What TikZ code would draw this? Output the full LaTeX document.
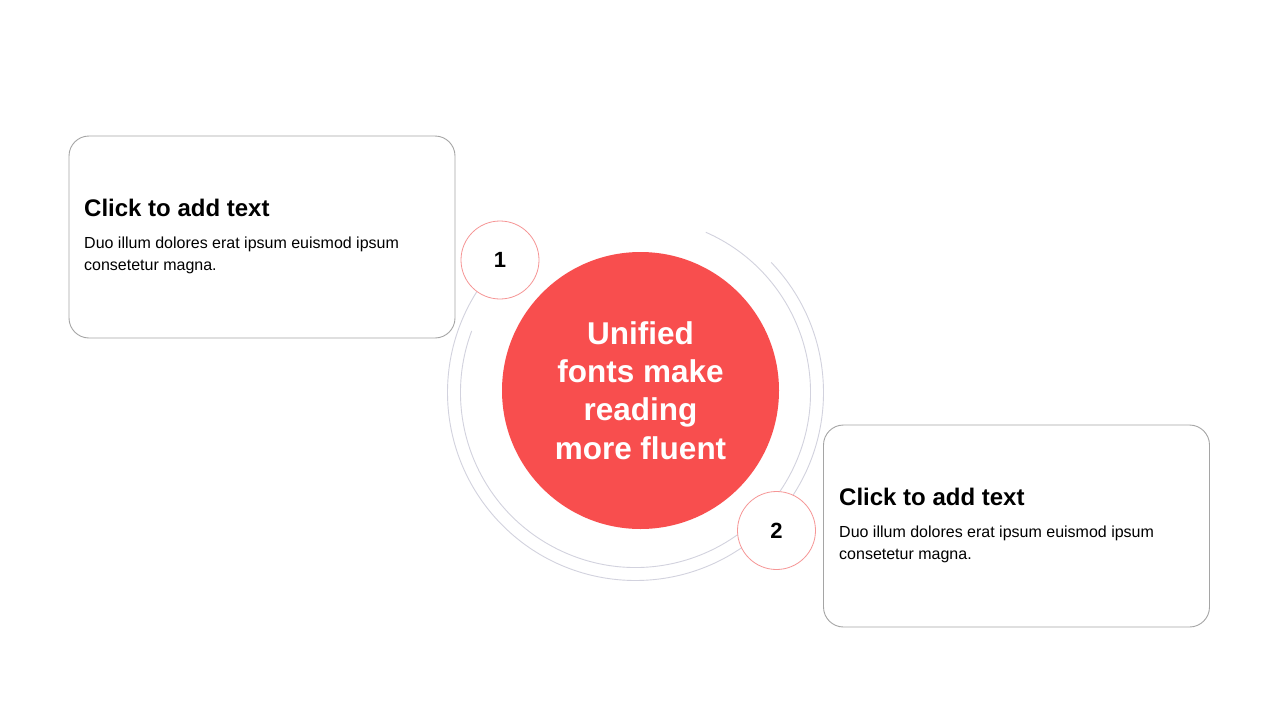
\documentclass[tikz,border=0pt]{standalone}
\usepackage{fontspec}
\setmainfont{Liberation Sans}
\definecolor{mainred}{RGB}{248,78,78}
\definecolor{ringpink}{RGB}{246,150,150}
\definecolor{arcgrey}{RGB}{210,210,222}
\definecolor{boxgrey}{RGB}{165,165,165}
\begin{document}
\begin{tikzpicture}[x=1pt,y=-1pt,
  infobox/.style={draw=boxgrey, line width=0.9pt, rounded corners=20pt, minimum width=386pt, minimum height=202pt, inner sep=0pt},
  ttl/.style={font=\fontsize{24}{28}\selectfont\bfseries, inner sep=0pt, anchor=base west},
  bodytext/.style={font=\fontsize{16}{22.5}\selectfont, inner sep=0pt, anchor=base west, align=left},
  numcirc/.style={circle, draw=ringpink, fill=white, line width=0.8pt, minimum size=78pt, inner sep=0pt, font=\fontsize{22}{22}\selectfont\bfseries},
  ring/.style={draw=arcgrey, line width=0.9pt},
  core/.style={circle, fill=mainred, minimum size=277pt, inner sep=0pt, text=white, font=\fontsize{31.5}{38.3}\selectfont\bfseries, align=center}
]
\useasboundingbox (0,0) rectangle (1280,720);
\fill[white] (0,0) rectangle (1280,720);

\node[infobox] (box1) at (262,237) {};
\node[infobox] (box2) at (1016.5,526) {};

\node[ttl] (t1) at (84,216) {Click to add text};
\node[bodytext] (d1) at (84,270.5) {Duo illum dolores erat ipsum euismod ipsum\\consetetur magna.};
\node[ttl] (t2) at (839,505) {Click to add text};
\node[bodytext] (d2) at (839,559.5) {Duo illum dolores erat ipsum euismod ipsum\\consetetur magna.};

\coordinate (C) at (635.5,392.5);
\draw[ring] ([shift={(66.3:175pt)}]C) arc[start angle=66.3, end angle=-200.6, radius=175pt];
\draw[ring] ([shift={(43.8:188pt)}]C) arc[start angle=43.8, end angle=-214, radius=188pt];

\node[core] (center) at (640.5,390.5) {Unified\\fonts make\\reading\\more fluent};

\node[numcirc] (n1) at (500,260) {\raisebox{-2pt}{1}};
\node[numcirc] (n2) at (776.5,530.5) {\raisebox{-1pt}{2}};
\end{tikzpicture}
\end{document}
